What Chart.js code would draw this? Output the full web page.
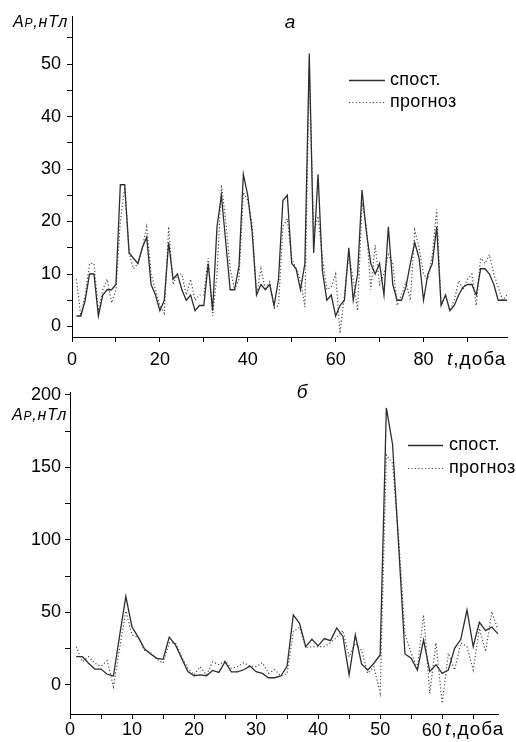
<!DOCTYPE html>
<html><head><meta charset="utf-8">
<script src="https://cdn.jsdelivr.net/npm/chart.js@4/dist/chart.umd.min.js"></script>
<style>
html,body{margin:0;padding:0;background:#fff;width:516px;height:742px;overflow:hidden}
canvas{position:absolute;left:0}
#ca{top:0}
#cb{top:370px}
</style></head>
<body>
<canvas id="ca" width="516" height="370"></canvas>
<canvas id="cb" width="516" height="372"></canvas>
<script>
// ---------- data ----------
const seriesNames = ['спост.', 'прогноз'];

const daysA = [1,2,3,4,5,6,7,8,9,10,11,12,13,14,15,16,17,18,19,20,21,22,23,24,25,26,27,28,29,30,31,32,33,34,35,36,37,38,39,40,41,42,43,44,45,46,47,48,49,50,51,52,53,54,55,56,57,58,59,60,61,62,63,64,65,66,67,68,69,70,71,72,73,74,75,76,77,78,79,80,81,82,83,84,85,86,87,88,89,90,91,92,93,94,95,96,97,98,99];
const observedA = [2,2,5,10,10,2,6,7,7,8,27,27,14,13,12,15,17,8,6,3,5,16,9,10,7,5,6,3,4,4,12,3,19,25,16,7,7,11.5,29,25,18,6,8,7,8,4,9,24,25,12,11,7,12,52,14,29,10.5,5,6,2,4,5,15,5,10,26,18,12,10,12,6,19,8,5,5,7.5,12,16,13,5,10,12,19,4,6,3,4,6,7.5,8,8,6,11,11,10,8,5,5,5];
const forecastA = [9,2,6,12,12,3,7,9,4.5,7,20,26.5,14,11,12,15,19,10,7,4,2.5,19,8,10,10,6,9,5,6,6,13,2,10,27,20,11,7,9,25.5,24,19.5,6,11,7,8.5,3.5,4,19,20.5,13,11,9,3.7,49,18,21,13,7,7.5,10,-1.3,6,13.7,9,3,23.6,19,7,15.5,8,10,13.7,12,4,6,8.5,5,18.4,15,10,9,13.7,22.3,4,6,3,5,8.7,7,9,10,4,13,12,13.7,10,7.5,5,6];

const daysB = [1,2,3,4,5,6,7,8,9,10,11,12,13,14,15,16,17,18,19,20,21,22,23,24,25,26,27,28,29,30,31,32,33,34,35,36,37,38,39,40,41,42,43,44,45,46,47,48,49,50,51,52,53,54,55,56,57,58,59,60,61,62,63,64,65,66,67,68,69];
const observedB = [19.5,19.5,15,11,11,7.4,6.2,34,61,40,33,25,21.4,18.4,17.7,33,27.6,18.4,9.2,6.4,7,6.4,10,8.7,16,9,9,10.5,13,9.2,8,5,5,6.2,13,48.3,42.5,26.4,31.5,27,32,30.6,39.3,33.5,7,34.5,14.5,10.3,15,20.7,191,166,95,21.4,18.4,10.3,31,9.4,14,8,10.3,25.3,31.5,51.7,26.4,43.2,37.5,40,35.2];
const forecastB = [26.4,16,19.5,15,13,16.8,-1.1,25,51,34.5,33,24,22.3,17.7,15,29,29,19.5,11.5,7,12.6,6.9,16,14,16.6,11.5,12.6,15.4,13,12.6,15.4,8,10.6,6.2,8,36.8,39.8,25.7,26.4,26.4,26.4,29.2,32.8,37.5,19.5,28.7,24,8,12.6,-5.7,158.6,152.9,100,35.6,21.8,12,48.3,-5.7,29,-12.6,21.8,10.3,29,26.4,10.3,39,23,50.6,38];

// tick values
const xTicksA = [0,10,20,30,40,50,60,70,80,90];
const xLabelsA = [0,20,40,60,80];
const yTicksA = [0,5,10,15,20,25,30,35,40,45,50,55];
const yLabelsA = [0,10,20,30,40,50];
const xTicksB = [0,5,10,15,20,25,30,35,40,45,50,55,60,65];
const xLabelsB = [0,10,20,30,40,50,60];
const yTicksB = [0,25,50,75,100,125,150,175,200];
const yLabelsB = [0,50,100,150,200];

// ---------- drawing ----------
const FF = "'Liberation Sans', Arial, Helvetica, sans-serif";
const TICK_SIZE = 18;

const annotPlugin = {
  id: 'annot',
  afterDraw(chart, args, o) {
    const ctx = chart.ctx;
    ctx.save();
    ctx.fillStyle = '#000';
    // panel title
    ctx.font = 'italic 19px ' + FF;
    ctx.textAlign = 'center';
    ctx.textBaseline = 'alphabetic';
    ctx.fillText(o.title, o.titleX, o.titleY);
    // shifted last tick label (drawn left of its tick, as in the original)
    if (o.shiftLabel !== undefined) {
      ctx.font = TICK_SIZE + 'px ' + FF;
      ctx.textAlign = 'right';
      ctx.textBaseline = 'middle';
      const px = chart.scales.x.getPixelForValue(o.shiftLabel);
      ctx.fillText(String(o.shiftLabel), px - 0.5, o.shiftY);
      ctx.textBaseline = 'alphabetic';
    }
    ctx.textAlign = 'left';
    // y axis label  A(P),нТл
    ctx.letterSpacing = '0.8px';
    let x = o.ylX;
    ctx.font = 'italic 16px ' + FF;
    ctx.fillText('A', x, o.ylY); x += ctx.measureText('A').width;
    ctx.font = 'italic 12px ' + FF;
    ctx.fillText('P', x, o.ylY); x += ctx.measureText('P').width;
    ctx.font = 'italic 16px ' + FF;
    ctx.fillText(',нТл', x, o.ylY);
    // x axis label  t,доба
    ctx.letterSpacing = '1px';
    x = o.xlX;
    ctx.font = 'italic 19px ' + FF;
    ctx.fillText('t', x, o.xlY); x += ctx.measureText('t').width;
    ctx.font = '19px ' + FF;
    ctx.fillText(',доба', x, o.xlY);
    // legend
    ctx.letterSpacing = '0.3px';
    chart.data.datasets.forEach((ds, i) => {
      const ly = o.legY + i * o.legDy;
      ctx.strokeStyle = ds.borderColor;
      ctx.lineWidth = ds.borderWidth;
      ctx.setLineDash(ds.borderDash || []);
      ctx.beginPath(); ctx.moveTo(o.legX0, ly); ctx.lineTo(o.legX1, ly); ctx.stroke();
      ctx.setLineDash([]);
      ctx.font = '18px ' + FF;
      ctx.textBaseline = 'middle';
      ctx.fillStyle = '#000';
      ctx.fillText(ds.label, o.legTX, ly);
      ctx.textBaseline = 'alphabetic';
    });
    ctx.letterSpacing = '0px';
    ctx.restore();
  }
};

function pts(days, vals) { return days.map((d, i) => ({ x: d, y: vals[i] })); }

function makeChart(id, cfg) {
  return new Chart(document.getElementById(id), {
    type: 'line',
    data: {
      datasets: [
        { label: seriesNames[0], data: pts(cfg.days, cfg.obs), borderColor: '#2e2e2e', borderWidth: 1.3,
          pointRadius: 0, tension: 0, fill: false },
        { label: seriesNames[1], data: pts(cfg.days, cfg.fc), borderColor: '#4a4a4a', borderWidth: 1.2,
          borderDash: [1.2, 2.2], pointRadius: 0, tension: 0, fill: false }
      ]
    },
    options: {
      responsive: false, animation: false, devicePixelRatio: 1,
      layout: { padding: cfg.pad },
      plugins: { legend: { display: false }, tooltip: { enabled: false }, annot: cfg.annot },
      scales: {
        x: {
          type: 'linear', min: cfg.xMin, max: cfg.xMax,
          afterBuildTicks: s => { s.ticks = cfg.xTicks.map(v => ({ value: v })); },
          afterFit: s => { s.height = cfg.xH; },
          ticks: { autoSkip: false, maxRotation: 0, color: '#000', padding: cfg.xPad,
                   font: { family: FF, size: TICK_SIZE },
                   callback: v => (cfg.xLabels.includes(v) && v !== cfg.annot.shiftLabel) ? String(v) : '' },
          grid: { drawOnChartArea: false, drawTicks: true, tickLength: 5, color: '#000', lineWidth: 1 },
          border: { display: true, color: '#000', width: 1 }
        },
        y: {
          type: 'linear', min: cfg.yMin, max: cfg.yMax,
          afterBuildTicks: s => { s.ticks = cfg.yTicks.map(v => ({ value: v })); },
          afterFit: s => { s.width = cfg.yW; },
          ticks: { autoSkip: false, color: '#000', padding: cfg.yPad,
                   font: { family: FF, size: TICK_SIZE },
                   callback: v => cfg.yLabels.includes(v) ? String(v) : '' },
          grid: { drawOnChartArea: false, drawTicks: true, tickLength: 5, color: '#000', lineWidth: 1 },
          border: { display: true, color: '#000', width: 1 }
        }
      }
    },
    plugins: [annotPlugin]
  });
}

makeChart('ca', {
  days: daysA, obs: observedA, fc: forecastA,
  xMin: 0, xMax: 99, yMin: -2, yMax: 59,
  xTicks: xTicksA, xLabels: xLabelsA, yTicks: yTicksA, yLabels: yLabelsA,
  pad: { left: 22, right: 9, top: 10, bottom: 0 }, xH: 33, yW: 50, yPad: 6, xPad: 7,
  annot: { title: 'a', titleX: 290, titleY: 28,
           ylX: 13, ylY: 27, xlX: 447, xlY: 365,
           legX0: 349, legX1: 385, legTX: 390, legY: 80.5, legDy: 22 }
});

makeChart('cb', {
  days: daysB, obs: observedB, fc: forecastB,
  xMin: 0, xMax: 69, yMin: -20, yMax: 202,
  xTicks: xTicksB, xLabels: xLabelsB, yTicks: yTicksB, yLabels: yLabelsB,
  pad: { left: 20, right: 18, top: 22, bottom: 0 }, xH: 28, yW: 50, yPad: 4, xPad: 0,
  annot: { title: 'б', titleX: 302, titleY: 28, shiftLabel: 60, shiftY: 361,
           ylX: 12, ylY: 50, xlX: 445, xlY: 365,
           legX0: 408, legX1: 443, legTX: 449, legY: 75.5, legDy: 23 }
});
</script>
</body></html>
